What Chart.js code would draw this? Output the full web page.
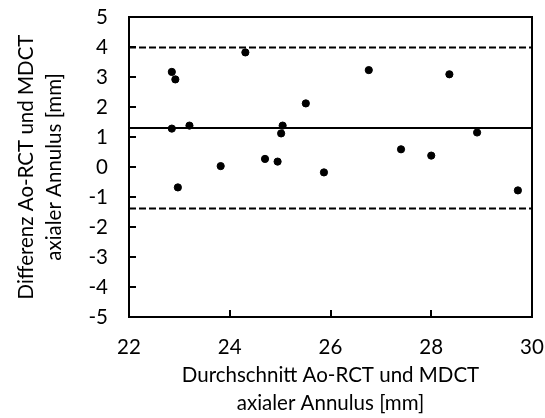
<!DOCTYPE html>
<html>
<head>
<meta charset="utf-8">
<script src="https://cdn.jsdelivr.net/npm/chart.js@4.4.1/dist/chart.umd.min.js"></script>
<style>
  html, body { margin: 0; padding: 0; background: #fff; }
  #wrap { width: 545px; height: 418px; }
</style>
</head>
<body>
<div id="wrap"><canvas id="baChart" width="545" height="418"></canvas></div>
<script>
// Bland-Altman: Durchschnitt (x) gegen Differenz (y)
var meanVals = [22.85, 22.92, 24.31, 22.85, 23.20, 22.97, 23.82, 24.70, 24.95, 25.05,
                25.02, 25.51, 26.76, 28.36, 25.87, 27.40, 28.00, 28.91, 29.72];
var diffVals = [3.17, 2.92, 3.82, 1.28, 1.38, -0.68, 0.03, 0.27, 0.18, 1.38,
                1.12, 2.12, 3.23, 3.09, -0.18, 0.59, 0.38, 1.15, -0.78];
var biasLine = 1.30;
var upperLoA = 3.98;
var lowerLoA = -1.38;
var xRange = [22, 30];
var yRange = [-5, 5];

var points = meanVals.map(function(x, i) { return {x: x, y: diffVals[i]}; });
function hline(v) {
    return [{x: xRange[0], y: v}, {x: xRange[1], y: v}];
}

var FONT = 'Lato, "Open Sans", sans-serif';
var PAD_LEFT = 12;

// Rahmen + nach innen zeigende Teilstriche
var framePlugin = {
    id: 'frame',
    afterDatasetsDraw: function(chart) {
        var ctx = chart.ctx, a = chart.chartArea;
        var xs = chart.scales.x, ys = chart.scales.y;
        ctx.save();
        ctx.strokeStyle = '#000';
        ctx.lineWidth = 2;
        ctx.strokeRect(a.left, a.top, a.right - a.left, a.bottom - a.top);
        ctx.beginPath();
        ys.ticks.forEach(function(t) {
            var py = Math.round(ys.getPixelForValue(t.value));
            ctx.moveTo(a.left, py);
            ctx.lineTo(a.left + 7, py);
        });
        xs.ticks.forEach(function(t) {
            var px = Math.round(xs.getPixelForValue(t.value));
            ctx.moveTo(px, a.bottom);
            ctx.lineTo(px, a.bottom - 7);
        });
        ctx.stroke();
        ctx.restore();
    }
};

function noOverflow(s) {
    s.paddingTop = 0;
    s.paddingBottom = 0;
    s.paddingLeft = 0;
    s.paddingRight = 0;
}

new Chart(document.getElementById('baChart'), {
    type: 'scatter',
    data: {
        datasets: [{
            data: points,
            backgroundColor: '#000',
            borderColor: '#000',
            pointRadius: 3.6,
            pointHoverRadius: 3.6
        }, {
            type: 'line',
            data: hline(biasLine),
            borderColor: '#000',
            borderWidth: 2,
            pointRadius: 0
        }, {
            type: 'line',
            data: hline(upperLoA),
            borderColor: '#000',
            borderWidth: 2,
            borderDash: [7, 3],
            pointRadius: 0
        }, {
            type: 'line',
            data: hline(lowerLoA),
            borderColor: '#000',
            borderWidth: 2,
            borderDash: [7, 3],
            pointRadius: 0
        }]
    },
    options: {
        responsive: false,
        animation: false,
        events: [],
        layout: { padding: { top: 17, right: 13, left: PAD_LEFT, bottom: 0 } },
        plugins: { legend: { display: false }, tooltip: { enabled: false } },
        scales: {
            x: {
                type: 'linear',
                min: xRange[0],
                max: xRange[1],
                grid: { display: false, drawTicks: false },
                border: { display: false },
                ticks: { stepSize: 2, color: '#000', padding: 18, font: { family: FONT, size: 20.5 } },
                title: {
                    display: true,
                    text: ['Durchschnitt Ao-RCT und MDCT', 'axialer Annulus [mm]'],
                    color: '#000',
                    padding: { top: 2, bottom: 0 },
                    font: { family: FONT, size: 20.5, lineHeight: 1.38 }
                },
                afterFit: function(s) { noOverflow(s); s.height = 101; }
            },
            y: {
                min: yRange[0],
                max: yRange[1],
                grid: { display: false, drawTicks: false },
                border: { display: false },
                ticks: { stepSize: 1, color: '#000', padding: 21, font: { family: FONT, size: 20.5 } },
                title: {
                    display: true,
                    text: ['Differenz Ao-RCT und MDCT', 'axialer Annulus [mm]'],
                    color: '#000',
                    padding: { top: 0, bottom: 4 },
                    font: { family: FONT, size: 20.5, lineHeight: 1.38 }
                },
                afterFit: function(s) { noOverflow(s); s.width = 129 - PAD_LEFT; }
            }
        }
    },
    plugins: [framePlugin]
});
</script>
</body>
</html>
